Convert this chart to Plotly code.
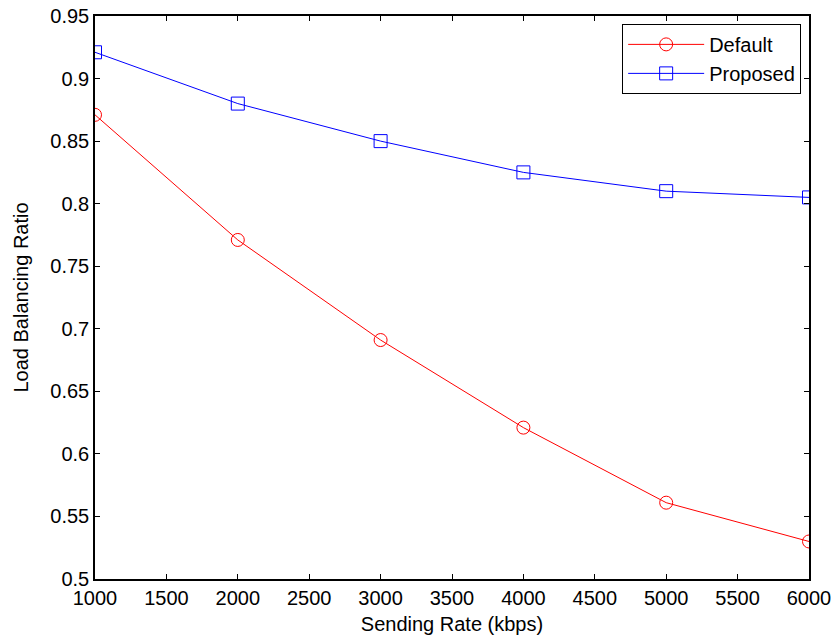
import plotly.graph_objects as go

sending_rate = [1000, 2000, 3000, 4000, 5000, 6000]
default_ratio = [0.871, 0.771, 0.691, 0.621, 0.561, 0.530]
proposed_ratio = [0.921, 0.880, 0.850, 0.825, 0.810, 0.805]

x_ticks = [1000, 1500, 2000, 2500, 3000, 3500, 4000, 4500, 5000, 5500, 6000]
y_ticks = [0.5, 0.55, 0.6, 0.65, 0.7, 0.75, 0.8, 0.85, 0.9, 0.95]

FONT = "Liberation Sans, Arial, sans-serif"

fig = go.Figure()
fig.add_trace(go.Scatter(
    x=sending_rate, y=default_ratio, name="Default", mode="lines+markers",
    line=dict(color="#ff0000", width=1),
    marker=dict(symbol="circle-open", size=13, color="#ff0000", line=dict(width=1)),
))
fig.add_trace(go.Scatter(
    x=sending_rate, y=proposed_ratio, name="Proposed", mode="lines+markers",
    line=dict(color="#0000ff", width=1),
    marker=dict(symbol="square-open", size=13, color="#0000ff", line=dict(width=1)),
))

axis_common = dict(
    showgrid=False, zeroline=False, showline=True, linecolor="black", linewidth=1.5,
    mirror="ticks", ticks="inside", ticklen=5, tickcolor="black", tickwidth=1,
    tickfont=dict(family=FONT, size=20, color="black"),
    automargin=False,
)

fig.update_xaxes(
    range=[1000, 6000], tickvals=x_ticks, ticktext=[str(v) for v in x_ticks],
    title=dict(text="Sending Rate (kbps)", standoff=9,
               font=dict(family=FONT, size=20, color="black")),
    **axis_common,
)
fig.update_yaxes(
    range=[0.5, 0.95], tickvals=y_ticks, ticktext=[f"{v:g}" for v in y_ticks],
    title=dict(text="Load Balancing Ratio", standoff=16,
               font=dict(family=FONT, size=20, color="black")),
    **axis_common,
)

fig.update_layout(
    width=837, height=642,
    margin=dict(l=95, r=28, t=16, b=63),
    plot_bgcolor="white", paper_bgcolor="white",
    showlegend=True,
    legend=dict(
        x=0.989, y=0.986, xanchor="right", yanchor="top",
        bgcolor="white", bordercolor="black", borderwidth=1,
        font=dict(family=FONT, size=20, color="black"),
        itemwidth=76,
    ),
)

fig.write_html("out.html")
